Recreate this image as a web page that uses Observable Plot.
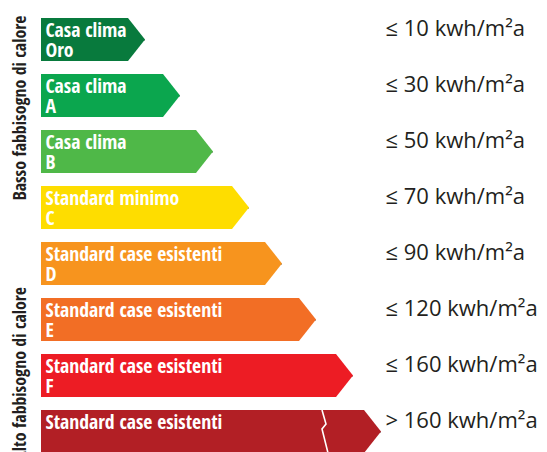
<!DOCTYPE html>
<html><head><meta charset="utf-8">
<script src="https://cdn.jsdelivr.net/npm/d3@7"></script>
<script src="https://cdn.jsdelivr.net/npm/@observablehq/plot@0.6"></script>
<style>
html,body{margin:0;padding:0;background:#fff;}
svg{display:block;}
</style></head><body><div id="chart"></div>
<script>
const classes = ["Oro", "A", "B", "C", "D", "E", "F", "G"];
const titles = ["Casa clima", "Casa clima", "Casa clima", "Standard minimo",
  "Standard case esistenti", "Standard case esistenti", "Standard case esistenti", "Standard case esistenti"];
const letters = ["Oro", "A", "B", "C", "D", "E", "F", ""];
const lengths = [104, 139, 172, 208, 241, 275, 312, 340];
const limits = ["≤ 10 kwh/m²a", "≤ 30 kwh/m²a", "≤ 50 kwh/m²a", "≤ 70 kwh/m²a",
  "≤ 90 kwh/m²a", "≤ 120 kwh/m²a", "≤ 160 kwh/m²a", "> 160 kwh/m²a"];
const colors = ["#087a3d", "#0ba64e", "#4fb848", "#fedd00", "#f7941e", "#f26e25", "#ed1c24", "#b21f25"];
const groupLow = "Basso fabbisogno di calore";
const groupHigh = "Alto fabbisogno di calore";

const data = classes.map((c, i) => ({
  cls: c, len: lengths[i], limit: limits[i], color: colors[i],
  label: letters[i] ? titles[i] + "\n" + letters[i] : titles[i]
}));

const head = 17;
const condFont = "'Open Sans Condensed', 'Roboto Condensed', sans-serif";

function arrows(index, scales, values, dims, context, next) {
  const g = next(index, scales, values, dims, context);
  d3.select(g).selectAll("rect").each(function () {
    const r = d3.select(this);
    const x = +r.attr("x"), y = +r.attr("y"), w = +r.attr("width"), h = +r.attr("height");
    const p = d3.path();
    p.moveTo(x, y); p.lineTo(x + w - head, y); p.lineTo(x + w, y + h / 2);
    p.lineTo(x + w - head, y + h); p.lineTo(x, y + h); p.closePath();
    const path = d3.create("svg:path").attr("d", p.toString()).attr("fill", r.attr("fill")).node();
    this.parentNode.insertBefore(path, this);
    r.remove();
  });
  return g;
}

function breakLine(index, scales, values) {
  const i = index[0];
  const y0 = values.y[i];
  const bw = scales.y.bandwidth();
  const xt = values.x2[i];
  const pts = [[xt - 59, y0], [xt - 55, y0 + 14], [xt - 59, y0 + 19], [xt - 53, y0 + bw]];
  const g = d3.create("svg:g");
  g.append("path").attr("d", d3.line()(pts)).attr("fill", "none")
    .attr("stroke", "#fff").attr("stroke-width", 1.6);
  return g.node();
}

const chart = Plot.plot({
  width: 547, height: 452, margin: 0,
  x: {domain: [0, 340], range: [41, 381], axis: null},
  y: {domain: classes, range: [15, 456], paddingInner: 0.24, paddingOuter: 0, axis: null},
  marks: [
    Plot.ruleY(data, {y: "cls", x1: "len", stroke: "#555", strokeWidth: 1.2}),
    Plot.barX(data, {y: "cls", x1: 0, x2: "len", fill: "color", render: arrows}),
    Plot.barX(data.slice(-1), {y: "cls", x1: 0, x2: "len", render: breakLine}),
    Plot.text(data, {x: 0, y: "cls", text: "label", dx: 4, dy: -17, textAnchor: "start",
      lineAnchor: "top", lineHeight: 1.015, fill: "white", fontSize: 19.7,
      fontFamily: condFont, fontWeight: "bold"}),
    Plot.text(data, {frameAnchor: "left", y: "cls", text: "limit", dx: 385, dy: -4,
      textAnchor: "start", lineAnchor: "bottom", fill: "#231f20", fontSize: 22,
      fontFamily: "'Open Sans', sans-serif"}),
    Plot.text([groupLow], {frameAnchor: "left", y: ["B"], text: (d) => d,
      rotate: -90, dx: 25, dy: -44, textAnchor: "middle", lineAnchor: "bottom",
      fill: "#231f20", fontSize: 17.8, fontFamily: condFont, fontWeight: "bold"}),
    Plot.text([groupHigh], {frameAnchor: "left", y: ["E"], text: (d) => d,
      rotate: -90, dx: 25, dy: -33, textAnchor: "end", lineAnchor: "bottom",
      fill: "#231f20", fontSize: 17.8, fontFamily: condFont, fontWeight: "bold"})
  ]
});
document.getElementById("chart").appendChild(chart);
</script></body></html>
